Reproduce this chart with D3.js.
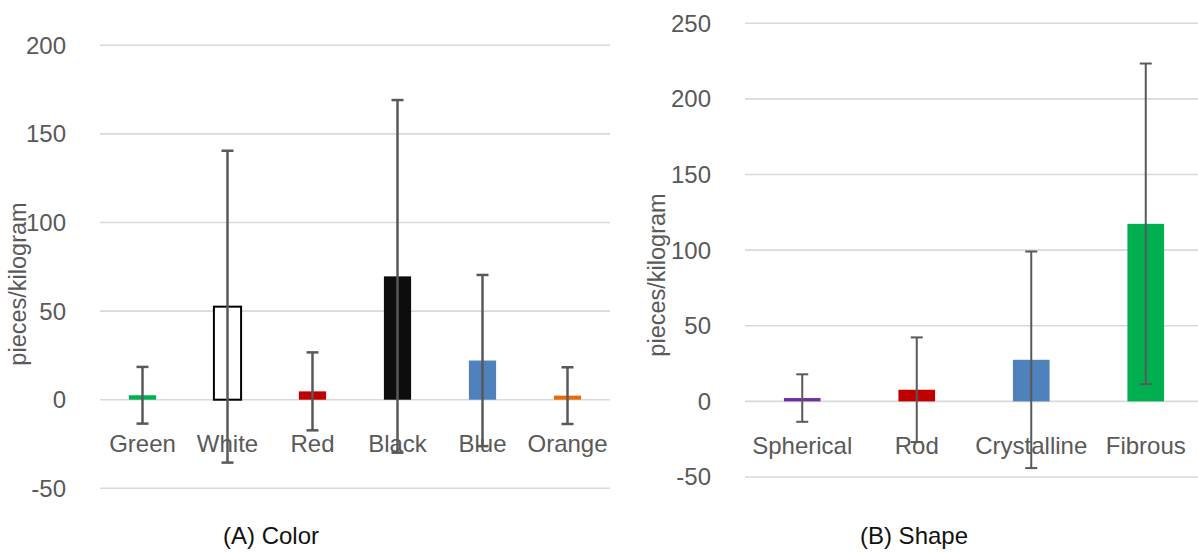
<!DOCTYPE html>
<html lang="en">
<head>
<meta charset="utf-8">
<script src="https://d3js.org/d3.v7.min.js"></script>
<style>
  body { margin: 0; background: #fff; }
  svg text { font-family: "Liberation Sans", Arial, sans-serif; }
</style>
</head>
<body>
<script>
var width = 1198, height = 553;

// (A) Color
var colorCats = ["Green", "White", "Red", "Black", "Blue", "Orange"];
var colorMeans = [2.5, 52.5, 4.7, 69.6, 22.1, 2.3];
var colorSD = [16, 88, 22, 99.5, 48.3, 16];
var colorFills = ["#00b050", "#ffffff", "#c00000", "#0d0d0d", "#4f81bd", "#e46c0a"];
var colorTicks = [-50, 0, 50, 100, 150, 200];

// (B) Shape
var shapeCats = ["Spherical", "Rod", "Crystalline", "Fibrous"];
var shapeMeans = [2.2, 7.7, 27.5, 117.4];
var shapeSD = [15.7, 34.6, 71.6, 106];
var shapeFills = ["#7030a0", "#c00000", "#4f81bd", "#00b050"];
var shapeTicks = [-50, 0, 50, 100, 150, 200, 250];

var svg = d3.select("body").append("svg")
  .attr("width", width)
  .attr("height", height);

function panel(opt) {
  var g = svg.append("g");
  var x = d3.scaleBand().domain(opt.cats).range(opt.xr).padding(0);
  var y = d3.scaleLinear().domain(opt.yd).range(opt.yr);
  var bw = x.bandwidth() * 0.32;

  // gridlines
  g.selectAll("line.grid").data(opt.ticks).enter().append("line")
    .attr("x1", opt.xr[0]).attr("x2", Math.min(opt.xr[1], width))
    .attr("y1", function(d) { return y(d); })
    .attr("y2", function(d) { return y(d); })
    .style("stroke", "#d9d9d9").style("stroke-width", 1.6);

  // tick labels
  g.selectAll("text.tick").data(opt.ticks).enter().append("text")
    .attr("x", opt.tickX).attr("y", function(d) { return y(d); })
    .attr("dy", "0.35em").attr("text-anchor", "end")
    .style("font-size", "24px").style("fill", "#595959")
    .text(function(d) { return d; });

  // axis title
  g.append("text")
    .attr("transform", "translate(" + opt.titleX + "," + opt.titleY + ") rotate(-90)")
    .attr("text-anchor", "middle")
    .style("font-size", "23.5px").style("fill", "#595959")
    .text("pieces/kilogram");

  // bars
  g.selectAll("rect.bar").data(opt.cats).enter().append("rect")
    .attr("x", function(d) { return x(d) + (x.bandwidth() - bw) / 2; })
    .attr("width", bw)
    .attr("y", function(d, i) { return y(opt.means[i]); })
    .attr("height", function(d, i) { return y(0) - y(opt.means[i]); })
    .style("fill", function(d, i) { return opt.fills[i]; })
    .style("stroke", function(d, i) { return opt.fills[i] == "#ffffff" ? "#000" : "none"; })
    .style("stroke-width", 2);

  // category labels
  g.selectAll("text.cat").data(opt.cats).enter().append("text")
    .attr("x", function(d) { return x(d) + x.bandwidth() / 2; })
    .attr("y", opt.catY)
    .attr("text-anchor", "middle")
    .style("font-size", "24px").style("fill", "#595959")
    .text(function(d) { return d; });

  // error bars
  var eb = g.selectAll("g.err").data(opt.cats).enter().append("g")
    .style("stroke", "#595959").style("stroke-width", opt.errW);
  eb.append("line")
    .attr("x1", function(d) { return x(d) + x.bandwidth() / 2; })
    .attr("x2", function(d) { return x(d) + x.bandwidth() / 2; })
    .attr("y1", function(d, i) { return y(opt.means[i] + opt.sd[i]); })
    .attr("y2", function(d, i) { return y(opt.means[i] - opt.sd[i]); });
  [1, -1].forEach(function(s) {
    eb.append("line")
      .attr("x1", function(d) { return x(d) + x.bandwidth() / 2 - 6; })
      .attr("x2", function(d) { return x(d) + x.bandwidth() / 2 + 6; })
      .attr("y1", function(d, i) { return y(opt.means[i] + s * opt.sd[i]); })
      .attr("y2", function(d, i) { return y(opt.means[i] + s * opt.sd[i]); });
  });

  // subtitle
  var sub = g.append("text")
    .attr("x", opt.subX).attr("y", 544)
    .attr("text-anchor", "middle")
    .style("font-size", "24px").style("fill", "#111");
  sub.append("tspan").text(opt.subA);
  sub.append("tspan").text(" " + opt.subB);
}

panel({
  cats: colorCats, means: colorMeans, sd: colorSD, fills: colorFills, ticks: colorTicks,
  xr: [100, 610], yd: [-50, 200], yr: [488.3, 45.3],
  tickX: 66, titleX: 26, titleY: 284, catY: 452, errW: 2.5,
  subX: 271, subA: "(A)", subB: "Color"
});

panel({
  cats: shapeCats, means: shapeMeans, sd: shapeSD, fills: shapeFills, ticks: shapeTicks,
  xr: [745, 1203], yd: [-50, 250], yr: [477, 23.3],
  tickX: 711, titleX: 665, titleY: 275, catY: 454, errW: 2,
  subX: 914, subA: "(B)", subB: "Shape"
});
</script>
</body>
</html>
